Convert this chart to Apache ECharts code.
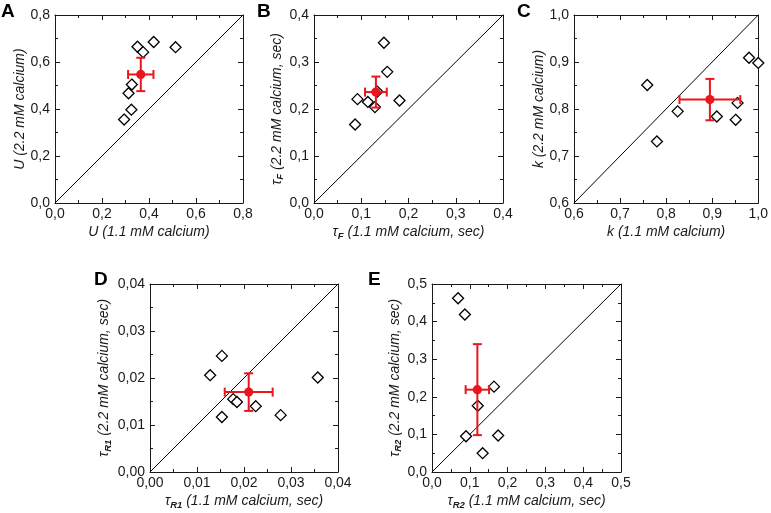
<!DOCTYPE html>
<html>
<head>
<meta charset="utf-8">
<script src="https://cdn.jsdelivr.net/npm/echarts@6/dist/echarts.min.js"></script>
<style>html,body{margin:0;padding:0;background:#fff;}#c{width:771px;height:513px;}</style>
</head>
<body>
<div id="c"></div>
<script>
// ---- data ----
const panelLetters = ['A','B','C','D','E'];
const aX = [0.294,0.325,0.313,0.327,0.351,0.375,0.420,0.513];
const aY = [0.355,0.397,0.467,0.504,0.665,0.642,0.685,0.663];
const aMean = [0.365,0.547]; const aErr = [0.054,0.071];
const bX = [0.148,0.155,0.092,0.114,0.129,0.134,0.181,0.087];
const bY = [0.341,0.279,0.221,0.215,0.204,0.237,0.218,0.167];
const bMean = [0.131,0.236]; const bErr = [0.023,0.033];
const cX = [0.759,0.780,0.825,0.910,0.951,0.955,0.980,1.000];
const cY = [0.851,0.731,0.795,0.784,0.777,0.813,0.909,0.898];
const cMean = [0.895,0.820]; const cErr = [0.066,0.044];
const dX = [0.0153,0.0128,0.0357,0.0177,0.0185,0.0225,0.0153,0.0278];
const dY = [0.0247,0.0206,0.0201,0.0155,0.0149,0.0140,0.0117,0.0121];
const dMean = [0.0210,0.0170]; const dErr = [0.0051,0.0040];
const eX = [0.069,0.087,0.164,0.121,0.090,0.175,0.134];
const eY = [0.462,0.419,0.227,0.176,0.095,0.097,0.050];
const eMean = [0.120,0.219]; const eErr = [0.031,0.121];
// axis ranges: [min, max, interval, decimals]
const aRange = [0,0.8,0.2,1];
const bRange = [0,0.4,0.1,1];
const cRange = [0.6,1.0,0.1,1];
const dRange = [0,0.04,0.01,2];
const eRange = [0,0.5,0.1,1];
const xNames = ['{i|U (1.1 mM calcium)}','{i|τ}{s|F}{i| (1.1 mM calcium, sec)}','{i|k (1.1 mM calcium)}','{i|τ}{s|R1}{i| (1.1 mM calcium, sec)}','{i|τ}{s|R2}{i| (1.1 mM calcium, sec)}'];
const yNames = ['{i|U (2.2 mM calcium)}','{i|τ}{s|F}{i| (2.2 mM calcium, sec)}','{i|k (2.2 mM calcium)}','{i|τ}{s|R1}{i| (2.2 mM calcium, sec)}','{i|τ}{s|R2}{i| (2.2 mM calcium, sec)}'];

const panels = [
  {x:aX,y:aY,mean:aMean,err:aErr,range:aRange},
  {x:bX,y:bY,mean:bMean,err:bErr,range:bRange},
  {x:cX,y:cY,mean:cMean,err:cErr,range:cRange},
  {x:dX,y:dY,mean:dMean,err:dErr,range:dRange},
  {x:eX,y:eY,mean:eMean,err:eErr,range:eRange}
];
// layout
const grids = [
  {left:55,top:15,width:188,height:188},
  {left:314,top:15,width:189,height:188},
  {left:574,top:15,width:189,height:188},
  {left:150,top:284,width:188,height:188},
  {left:432,top:284,width:189,height:188}
];
const letterPos = [[1,2],[257,2],[517,2],[94,270],[368,270]];

const FONT = "Arial, 'Liberation Sans', sans-serif";
const INK = '#1a1a1a';
const RED = '#e8161e';
const rich = {
  i:{fontSize:14,fontStyle:'italic',fontFamily:FONT,color:INK,lineHeight:17},
  s:{fontSize:9.5,fontStyle:'italic',fontWeight:'bold',fontFamily:FONT,color:INK,verticalAlign:'bottom',lineHeight:17,padding:[6,0,0,0]}
};

const xAxes=[], yAxes=[], series=[];
panels.forEach((p,i)=>{
  const [mn,mx,iv,dec] = p.range;
  const fmt = v => v.toFixed(dec).replace('.',',');
  const common = {
    gridIndex:i, type:'value', min:mn, max:mx, interval:iv,
    axisLine:{show:true,onZero:false,lineStyle:{color:INK,width:1}},
    axisTick:{show:true,inside:true,length:5,lineStyle:{color:INK,width:1}},
    minorTick:{show:true,splitNumber:2,length:3,lineStyle:{color:INK,width:1}},
    splitLine:{show:false}
  };
  xAxes.push(Object.assign({},common,{position:'bottom',
    axisLabel:{formatter:fmt,fontSize:14,color:INK,fontFamily:FONT,margin:4},
    name:xNames[i],nameLocation:'middle',nameGap:21,nameTextStyle:{rich:rich}}));
  xAxes.push(Object.assign({},common,{position:'top',axisLabel:{show:false}}));
  yAxes.push(Object.assign({},common,{position:'left',
    axisLabel:{formatter:fmt,fontSize:14,color:INK,fontFamily:FONT,margin:5},
    name:yNames[i],nameLocation:'middle',nameGap:i===3?37:25,nameTextStyle:{rich:rich}}));
  yAxes.push(Object.assign({},common,{position:'right',axisLabel:{show:false}}));
  const xa = 2*i, ya = 2*i;
  series.push({type:'line',xAxisIndex:xa,yAxisIndex:ya,data:[[mn,mn],[mx,mx]],symbol:'none',
    lineStyle:{color:'#000',width:1},silent:true,z:2});
  series.push({type:'scatter',xAxisIndex:xa,yAxisIndex:ya,data:p.x.map((v,k)=>[v,p.y[k]]),
    symbol:'diamond',symbolSize:[11,11],clip:false,
    itemStyle:{color:'#fff',borderColor:'#000',borderWidth:1.3,opacity:1},z:3});
  series.push({type:'custom',xAxisIndex:xa,yAxisIndex:ya,clip:false,z:4,
    data:[[p.mean[0],p.mean[1],p.err[0],p.err[1]]],
    renderItem:function(params,api){
      const x=api.value(0), y=api.value(1), ex=api.value(2), ey=api.value(3);
      const c=api.coord([x,y]);
      const l=api.coord([x-ex,y]), r=api.coord([x+ex,y]);
      const t=api.coord([x,y+ey]), b=api.coord([x,y-ey]);
      const cap=4.5;
      const st={stroke:RED,lineWidth:2};
      return {type:'group',children:[
        {type:'line',shape:{x1:l[0],y1:l[1],x2:r[0],y2:r[1]},style:st},
        {type:'line',shape:{x1:t[0],y1:t[1],x2:b[0],y2:b[1]},style:st},
        {type:'line',shape:{x1:l[0],y1:l[1]-cap,x2:l[0],y2:l[1]+cap},style:st},
        {type:'line',shape:{x1:r[0],y1:r[1]-cap,x2:r[0],y2:r[1]+cap},style:st},
        {type:'line',shape:{x1:t[0]-cap,y1:t[1],x2:t[0]+cap,y2:t[1]},style:st},
        {type:'line',shape:{x1:b[0]-cap,y1:b[1],x2:b[0]+cap,y2:b[1]},style:st},
        {type:'circle',shape:{cx:c[0],cy:c[1],r:4.6},style:{fill:RED}}
      ]};
    }});
});

const chart = echarts.init(document.getElementById('c'),null,{renderer:'canvas'});
chart.setOption({
  animation:false,
  backgroundColor:'#fff',
  grid:grids,
  xAxis:xAxes,
  yAxis:yAxes,
  series:series,
  graphic:panelLetters.map((L,i)=>({type:'text',left:letterPos[i][0],top:letterPos[i][1],
    style:{text:L,font:"bold 19px "+FONT,fill:'#000'}}))
});
</script>
</body>
</html>
